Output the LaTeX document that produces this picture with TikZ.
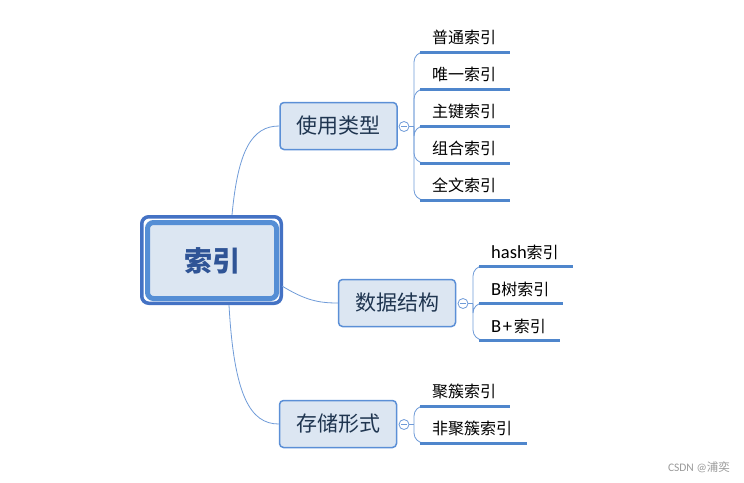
\documentclass[tikz,border=0pt]{standalone}
\usepackage{fontspec}
\setmainfont{Carlito}
\newfontfamily\cjk{Noto Sans CJK SC}
\definecolor{boxfill}{HTML}{DCE6F2}
\definecolor{boxline}{HTML}{5B8FD6}
\definecolor{outerline}{HTML}{4472C4}
\definecolor{innerline}{HTML}{558ED5}
\definecolor{connline}{HTML}{6F9BD8}
\definecolor{uline}{HTML}{4F86CC}
\definecolor{maintext}{HTML}{2F5496}
\definecolor{branchtext}{HTML}{1F3550}
\newcommand{\lat}[1]{{\fontsize{18.5}{20}\selectfont #1}}
\begin{document}
\begin{tikzpicture}[x=1pt,y=-1pt,
  branchbox/.style={draw=boxline, line width=1.5pt, fill=boxfill, rounded corners=4pt,
     minimum width=117pt, minimum height=47pt, inner sep=0pt,
     font=\fontsize{21}{24}\selectfont\cjk, text=branchtext},
  togglec/.style={circle, draw=connline, fill=white, line width=0.8pt, minimum size=10pt, inner sep=0pt,
     path picture={\draw[connline, line width=0.8pt] ([xshift=-3pt]path picture bounding box.center) -- ([xshift=3pt]path picture bounding box.center);}},
  conn/.style={draw=connline, line width=0.8pt},
  fan/.style={draw=connline, line width=0.8pt, rounded corners=10pt},
  ul/.style={draw=uline, line width=3pt},
  leaf/.style={anchor=base west, inner sep=0pt, font=\fontsize{16}{19}\selectfont, text=black},
]
\useasboundingbox (0,0) rectangle (744,482);

% central node
\node[draw=outerline, line width=3.5pt, rounded corners=7pt, minimum width=139.5pt, minimum height=86.5pt, inner sep=0pt] (rootout) at (211.5,260) {};
\node[draw=innerline, fill=boxfill, line width=5pt, rounded corners=6pt, minimum width=129pt, minimum height=76pt, inner sep=0pt,
  font=\fontsize{28}{32}\selectfont\cjk\bfseries, text=maintext] (root) at (212,260.5) {索引};

% branches
\node[branchbox] (b1) at (338.5,126) {使用类型};
\node[branchbox] (b2) at (397,303) {数据结构};
\node[branchbox] (b3) at (338,424) {存储形式};

\node[togglec] (t1) at (404,126.5) {};
\node[togglec] (t2) at (463,303.5) {};
\node[togglec] (t3) at (404,424.5) {};

% connectors root -> branches
\coordinate (r1) at (232,215);
\coordinate (r2) at (282,286);
\coordinate (r3) at (229,305);
\draw[conn] (r1) .. controls (238,150) and (252,126) .. (b1.west);
\draw[conn] (r2) .. controls (305,300) and (318,303) .. (b2.west);
\draw[conn] (r3) .. controls (234,395) and (250,424) .. (b3.west);

% branch 1 leaves
\coordinate (k1) at (414,126.5);
\foreach \i/\y/\e in {1/52/510, 2/89/510, 3/126/510, 4/163/510, 5/200/510}{
  \coordinate (a1\i) at (420,\y);
  \coordinate (e1\i) at (\e,\y);
}
\draw[conn] (t1.east) -- (k1);
\foreach \i in {1,...,5}{ \draw[fan] (k1) |- (a1\i); \draw[ul] (a1\i) -- (e1\i); }
\node[leaf] (l11) at (432,43) {\cjk 普通索引};
\node[leaf] (l12) at (432,80) {\cjk 唯一索引};
\node[leaf] (l13) at (432,117) {\cjk 主键索引};
\node[leaf] (l14) at (432,154) {\cjk 组合索引};
\node[leaf] (l15) at (432,191) {\cjk 全文索引};

% branch 2 leaves
\coordinate (k2) at (473,303.5);
\coordinate (a21) at (479,266); \coordinate (e21) at (573,266);
\coordinate (a22) at (479,303); \coordinate (e22) at (563,303);
\coordinate (a23) at (479,340); \coordinate (e23) at (560,340);
\draw[conn] (t2.east) -- (k2);
\foreach \i in {1,2,3}{ \draw[fan] (k2) |- (a2\i); \draw[ul] (a2\i) -- (e2\i); }
\node[leaf] (l21) at (491,258) {\lat{hash}{\cjk 索引}};
\node[leaf] (l22) at (491,295) {\lat{B}{\cjk 树索引}};
\node[leaf] (l23) at (491,332) {\lat{B\hspace{1.5pt}+\hspace{2pt}}{\cjk 索引}};

% branch 3 leaves
\coordinate (k3) at (414,424.5);
\coordinate (a31) at (420,406); \coordinate (e31) at (510,406);
\coordinate (a32) at (420,443); \coordinate (e32) at (527,443);
\draw[conn] (t3.east) -- (k3);
\foreach \i in {1,2}{ \draw[fan] (k3) |- (a3\i); \draw[ul] (a3\i) -- (e3\i); }
\node[leaf] (l31) at (432,397) {\cjk 聚簇索引};
\node[leaf] (l32) at (432,434) {\cjk 非聚簇索引};

% watermark
\node[anchor=east, inner sep=0pt, text=black!40, font=\fontsize{11.5}{13}\selectfont] (wm) at (730,467) {CSDN @{\cjk 浦奕}};
\end{tikzpicture}
\end{document}
